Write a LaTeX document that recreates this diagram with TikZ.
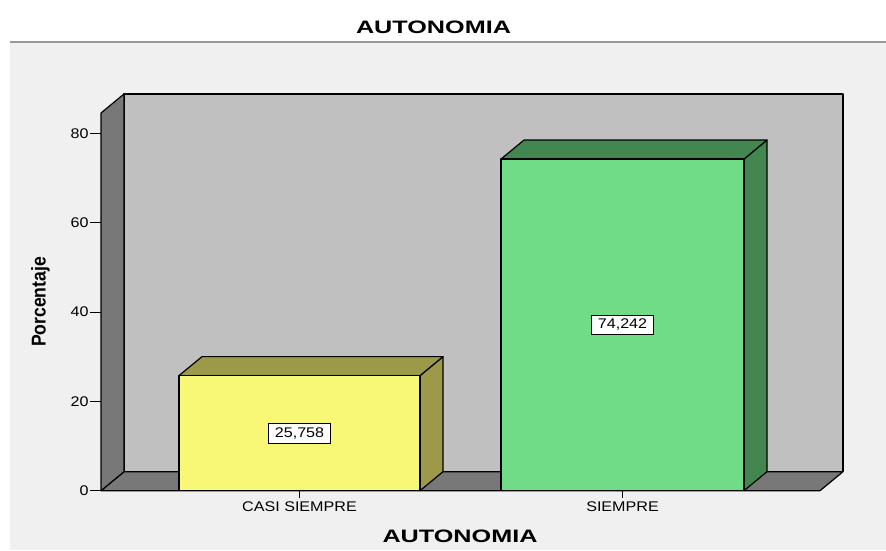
\documentclass[tikz,border=0pt]{standalone}
\usepackage{fontspec}
\setmainfont{Liberation Sans}
\newfontfamily\spssfont[FakeStretch=1.15]{Liberation Sans}
\newfontfamily\spsstitle[FakeStretch=1.4]{Liberation Sans}
\newfontfamily\spssnarrow[FakeStretch=0.88]{Liberation Sans}
\usetikzlibrary{calc}
\definecolor{panelgray}{HTML}{F0F0F0}
\definecolor{wallgray}{HTML}{C0C0C0}
\definecolor{floorgray}{HTML}{787878}
\definecolor{yellowfront}{HTML}{F8F776}
\definecolor{yellowside}{HTML}{9C9A48}
\definecolor{greenfront}{HTML}{70DC88}
\definecolor{greenside}{HTML}{438750}

\begin{document}
\begin{tikzpicture}[x=1pt,y=1pt,
    outline/.style={draw=black, line width=1.2pt, line join=round},
    ticklabel/.style={anchor=east, inner sep=1pt, font=\spssfont\fontsize{14}{16}\selectfont},
    catlabel/.style={anchor=north, inner sep=3.5pt, font=\spssfont\fontsize{14}{16}\selectfont},
    valuebox/.style={draw=black, fill=white, line width=0.8pt, inner xsep=6pt, inner ysep=4pt,
      font=\spssfont\fontsize{14}{16}\selectfont},
    charttitle/.style={font=\spsstitle\bfseries\fontsize{18}{20}\selectfont}]
    \useasboundingbox (0,0) rectangle (886,550);
    \fill[white] (0,0) rectangle (886,550);
    \fill[panelgray] (10,0) rectangle (886,507);
    \draw[line width=2pt, gray!80] (10,507.5) -- (886,507.5);% title rule
    \node[charttitle] (Title) at (433.5,522.5) {AUTONOMIA};

    \coordinate (Origin)  at (101,59.3);
    \coordinate (AxisTop) at (101,437);
    \coordinate (BackLow) at (124,78.3);
    \coordinate (BackTop) at (843,456);
    % back wall, floor and side wall
    \filldraw[outline, fill=wallgray] (BackLow) rectangle (BackTop);
    \filldraw[outline, fill=floorgray] (Origin) -- (BackLow) -- (843,78.3) -- (820,59.3) -- cycle;
    \filldraw[outline, fill=floorgray] (Origin) -- (AxisTop) -- (124,456) -- (BackLow) -- cycle;

    \foreach \v in {0,20,...,80}{% ticks of the value axis
      \coordinate (YTick\v) at (101,59.3+4.4675*\v);
      \draw[line width=1pt] (YTick\v) -- ++(-11,0) node[ticklabel] (YLabel\v) {\v};
    }

    \foreach \xl/\xr/\val/\txt/\front/\side/\cat/\bname in {%
        179/420/25.758/{25,758}/yellowfront/yellowside/CASI SIEMPRE/casi,%
        501/744/74.242/{74,242}/greenfront/greenside/SIEMPRE/siempre}{
      \coordinate (\bname-bl) at (\xl,59.3);
      \coordinate (\bname-br) at (\xr,59.3);
      \coordinate (\bname-tl) at (\xl,59.3+4.4675*\val);
      \coordinate (\bname-tr) at (\xr,59.3+4.4675*\val);
      \filldraw[outline, fill=\side] (\bname-br) -- ++(23,19) -- ($(\bname-tr)+(23,19)$)
          -- (\bname-tr) -- cycle;% side face
      \filldraw[outline, fill=\side] (\bname-tl) -- ++(23,19) -- ($(\bname-tr)+(23,19)$)
          -- (\bname-tr) -- cycle;% top face
      \filldraw[outline, fill=\front] (\bname-bl) rectangle (\bname-tr);
      \node[valuebox] (\bname-value) at ($(\bname-bl)!0.5!(\bname-tr)$) {\txt};
      \coordinate (\bname-tick) at ($(\bname-bl)!0.5!(\bname-br)$);
      \draw[line width=1pt] (\bname-tick) -- ++(0,-7) node[catlabel] (\bname-label) {\cat};
    }

    \node[charttitle] (XTitle) at (460,14) {AUTONOMIA};
    \node[rotate=90, font=\spssnarrow\bfseries\fontsize{20}{22}\selectfont] (YTitle)
        at (40.5,248) {Porcentaje};
\end{tikzpicture}
\end{document}
